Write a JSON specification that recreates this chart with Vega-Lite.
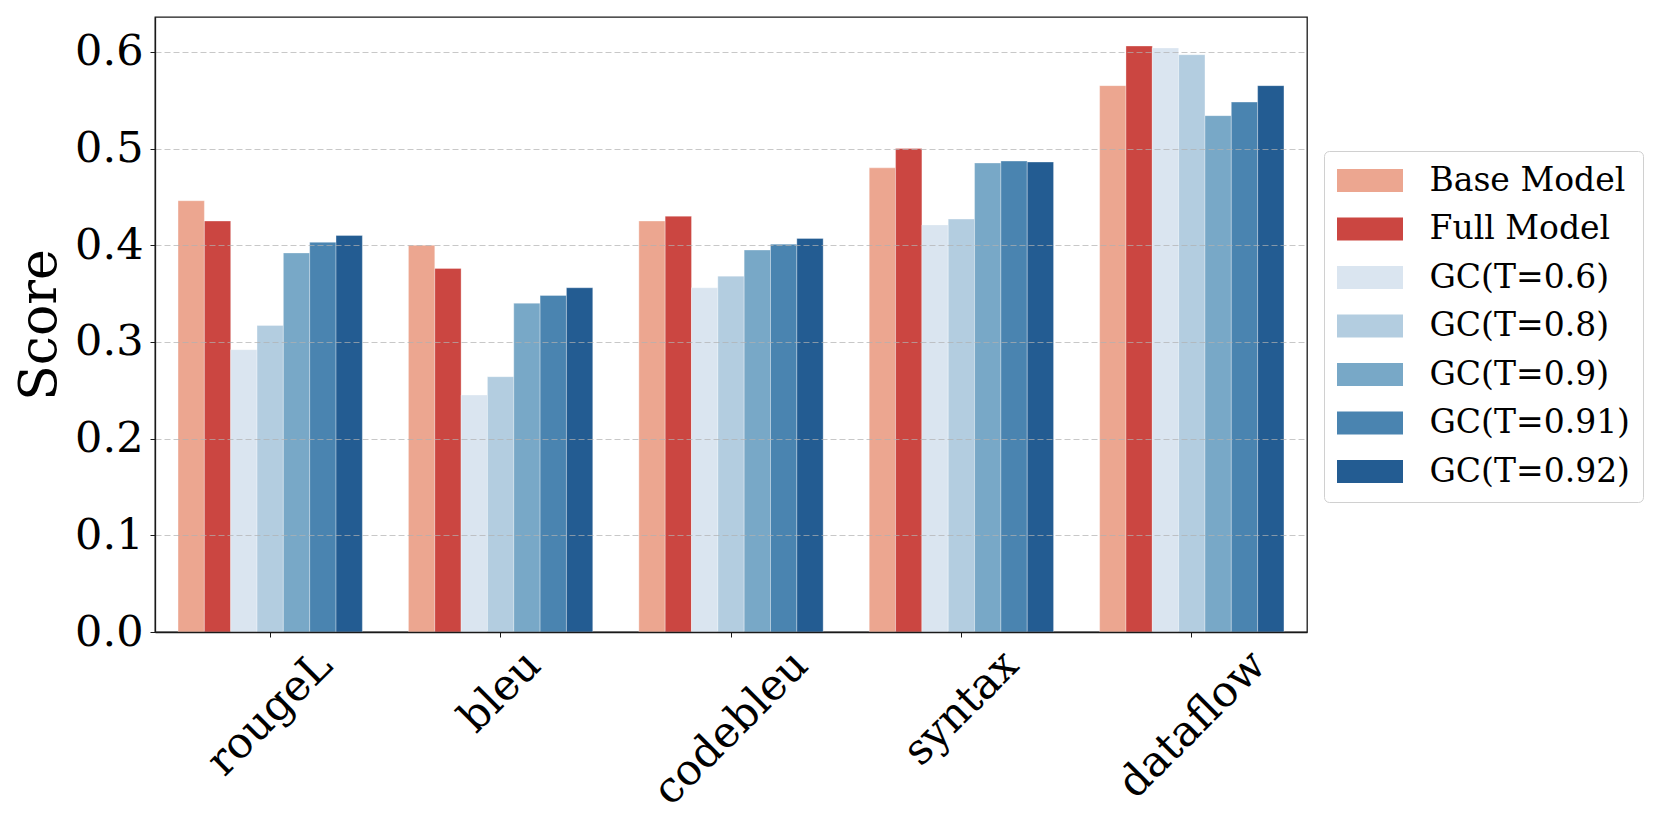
{
  "$schema": "https://vega.github.io/schema/vega-lite/v6.json",
  "autosize": {"type": "none"},
  "padding": {"left": 155, "top": 17, "right": 354, "bottom": 198},
  "width": 1152,
  "height": 615,
  "background": "white",
  "config": {
    "font": "DejaVu Serif",
    "view": {"stroke": "#1a1a1a", "strokeWidth": 1.3},
    "axis": {"labelFont": "DejaVu Serif", "titleFont": "DejaVu Serif", "labelColor": "black", "titleColor": "black", "tickColor": "#1a1a1a", "domainColor": "#1a1a1a", "labelLimit": 0},
    "legend": {"labelFont": "DejaVu Serif", "labelLimit": 0}
  },
  "data": {
    "values": [
      {"metric": "rougeL", "method": "Base Model", "score": 0.446},
      {"metric": "rougeL", "method": "Full Model", "score": 0.425},
      {"metric": "rougeL", "method": "GC(T=0.6)", "score": 0.292},
      {"metric": "rougeL", "method": "GC(T=0.8)", "score": 0.317},
      {"metric": "rougeL", "method": "GC(T=0.9)", "score": 0.392},
      {"metric": "rougeL", "method": "GC(T=0.91)", "score": 0.403},
      {"metric": "rougeL", "method": "GC(T=0.92)", "score": 0.410},
      {"metric": "bleu", "method": "Base Model", "score": 0.400},
      {"metric": "bleu", "method": "Full Model", "score": 0.376},
      {"metric": "bleu", "method": "GC(T=0.6)", "score": 0.245},
      {"metric": "bleu", "method": "GC(T=0.8)", "score": 0.264},
      {"metric": "bleu", "method": "GC(T=0.9)", "score": 0.340},
      {"metric": "bleu", "method": "GC(T=0.91)", "score": 0.348},
      {"metric": "bleu", "method": "GC(T=0.92)", "score": 0.356},
      {"metric": "codebleu", "method": "Base Model", "score": 0.425},
      {"metric": "codebleu", "method": "Full Model", "score": 0.430},
      {"metric": "codebleu", "method": "GC(T=0.6)", "score": 0.356},
      {"metric": "codebleu", "method": "GC(T=0.8)", "score": 0.368},
      {"metric": "codebleu", "method": "GC(T=0.9)", "score": 0.395},
      {"metric": "codebleu", "method": "GC(T=0.91)", "score": 0.401},
      {"metric": "codebleu", "method": "GC(T=0.92)", "score": 0.407},
      {"metric": "syntax", "method": "Base Model", "score": 0.480},
      {"metric": "syntax", "method": "Full Model", "score": 0.500},
      {"metric": "syntax", "method": "GC(T=0.6)", "score": 0.421},
      {"metric": "syntax", "method": "GC(T=0.8)", "score": 0.427},
      {"metric": "syntax", "method": "GC(T=0.9)", "score": 0.485},
      {"metric": "syntax", "method": "GC(T=0.91)", "score": 0.487},
      {"metric": "syntax", "method": "GC(T=0.92)", "score": 0.486},
      {"metric": "dataflow", "method": "Base Model", "score": 0.565},
      {"metric": "dataflow", "method": "Full Model", "score": 0.606},
      {"metric": "dataflow", "method": "GC(T=0.6)", "score": 0.604},
      {"metric": "dataflow", "method": "GC(T=0.8)", "score": 0.597},
      {"metric": "dataflow", "method": "GC(T=0.9)", "score": 0.534},
      {"metric": "dataflow", "method": "GC(T=0.91)", "score": 0.548},
      {"metric": "dataflow", "method": "GC(T=0.92)", "score": 0.565}
    ]
  },
  "mark": {"type": "bar", "stroke": "white", "strokeWidth": 0.8, "strokeOpacity": 0.4},
  "encoding": {
    "x": {
      "field": "metric",
      "type": "nominal",
      "sort": ["rougeL", "bleu", "codebleu", "syntax", "dataflow"],
      "scale": {"paddingInner": 0.2, "paddingOuter": 0.1},
      "axis": {
        "title": null,
        "labelAngle": -45,
        "labelAlign": "right",
        "labelBaseline": "middle",
        "labelFontSize": 43,
        "labelPadding": 21,
        "tickSize": 5,
        "domainWidth": 1.3,
        "zindex": 2,
        "labelOverlap": false,
        "labelFlush": false,
        "labelOffset": {
          "condition": [
            {"test": "datum.value === 'rougeL'", "value": 55},
            {"test": "datum.value === 'bleu'", "value": 33},
            {"test": "datum.value === 'codebleu'", "value": 70},
            {"test": "datum.value === 'syntax'", "value": 50}
          ],
          "value": 67
        }
      }
    },
    "xOffset": {
      "field": "method",
      "type": "nominal",
      "sort": ["Base Model", "Full Model", "GC(T=0.6)", "GC(T=0.8)", "GC(T=0.9)", "GC(T=0.91)", "GC(T=0.92)"],
      "scale": {"paddingInner": 0, "paddingOuter": 0}
    },
    "y": {
      "field": "score",
      "type": "quantitative",
      "scale": {"domain": [0, 0.636], "nice": false, "zero": true},
      "axis": {
        "title": "Score",
        "titleFontSize": 52,
        "titleFontWeight": "normal",
        "titlePadding": 8,
        "values": [0, 0.1, 0.2, 0.3, 0.4, 0.5, 0.6],
        "format": ".1f",
        "labelFontSize": 43,
        "labelPadding": 7,
        "tickSize": 5,
        "grid": true,
        "gridDash": [6, 3],
        "gridColor": "#b0b0b0",
        "gridOpacity": {"condition": {"test": "datum.value === 0", "value": 0}, "value": 0.7},
        "gridWidth": 1,
        "domainWidth": 1.3,
        "zindex": 1
      }
    },
    "color": {
      "field": "method",
      "type": "nominal",
      "sort": ["Base Model", "Full Model", "GC(T=0.6)", "GC(T=0.8)", "GC(T=0.9)", "GC(T=0.91)", "GC(T=0.92)"],
      "scale": {
        "domain": ["Base Model", "Full Model", "GC(T=0.6)", "GC(T=0.8)", "GC(T=0.9)", "GC(T=0.91)", "GC(T=0.92)"],
        "range": ["#eca690", "#cb4641", "#dae5f0", "#b3cde0", "#78a8c7", "#4a84b0", "#235c92"]
      },
      "legend": {
        "title": null,
        "orient": "none",
        "legendX": 1169,
        "legendY": 134,
        "labelFontSize": 33,
        "labelColor": "black",
        "labelOffset": 43,
        "symbolType": "M-2,-0.7H2V0.7H-2Z",
        "symbolSize": 1089,
        "symbolOffset": 16.5,
        "symbolStrokeWidth": 0,
        "symbolOpacity": 1,
        "rowPadding": 14.5,
        "padding": 13,
        "strokeColor": "#d0d0d0",
        "fillColor": "white",
        "cornerRadius": 5
      }
    }
  }
}
